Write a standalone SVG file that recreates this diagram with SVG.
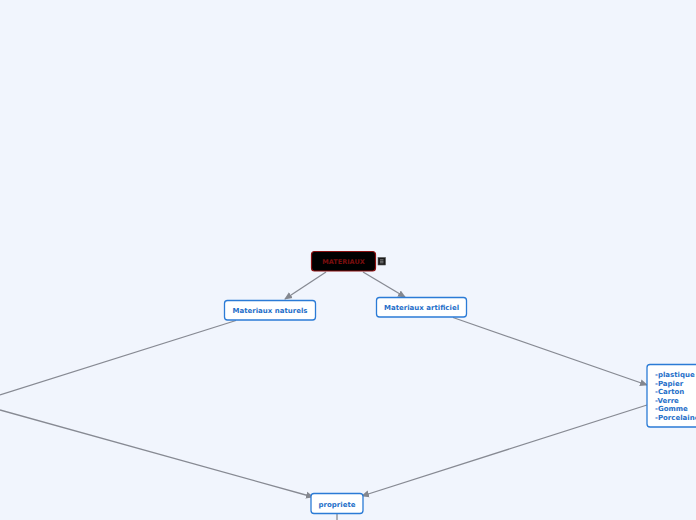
<svg xmlns="http://www.w3.org/2000/svg" width="696" height="520" viewBox="0 0 696 520">
<defs>
<marker id="ah" markerWidth="8" markerHeight="8" refX="7" refY="4" orient="auto" markerUnits="userSpaceOnUse">
<path d="M0,0.5 L8,4 L0,7.5 Z" fill="#84878f"/>
</marker>
<style>
.bg{fill:#f1f5fd}
.n{fill:#ffffff;stroke:#2b7bd6;stroke-width:1.3}
.t{font-family:"DejaVu Sans",Verdana,sans-serif;font-weight:bold;font-size:7px;fill:#1f6fc9}
.c{fill:none;stroke:#878a93;stroke-width:1.3}
</style>
</defs>
<rect class="bg" x="0" y="0" width="696" height="520"/>
<g id="connectors">
<line class="c" x1="326" y1="272" x2="285" y2="299" marker-end="url(#ah)"/>
<line class="c" x1="363" y1="272" x2="405" y2="297" marker-end="url(#ah)"/>
<line class="c" x1="236" y1="320.5" x2="0" y2="395"/>
<line class="c" x1="0" y1="410" x2="313" y2="497" marker-end="url(#ah)"/>
<line class="c" x1="453" y1="317.5" x2="647" y2="385" marker-end="url(#ah)"/>
<line class="c" x1="647" y1="405" x2="362" y2="496" marker-end="url(#ah)"/>
<line class="c" x1="337" y1="514" x2="337" y2="520"/>
</g>
<g id="materiaux">
<rect x="311.5" y="251.5" width="64" height="19.5" rx="3" fill="#000000" stroke="#8a1010" stroke-width="1.2"/>
<text x="343.5" y="264" text-anchor="middle" style="font-family:'DejaVu Sans',Verdana,sans-serif;font-weight:bold;font-size:6.5px;fill:#7a0e0e">MATERIAUX</text>
<rect x="378" y="257.5" width="7.5" height="7.5" fill="#1a1a1a" stroke="#555" stroke-width="0.6"/>
<path d="M380 259.8h3.5M380 261.3h3.5M380 262.8h3.5" stroke="#bbbbbb" stroke-width="0.6"/>
</g>
<g id="naturels">
<rect class="n" x="224.5" y="300.5" width="91" height="19.5" rx="3"/>
<text class="t" x="270" y="313" text-anchor="middle">Materiaux naturels</text>
</g>
<g id="artificiel">
<rect class="n" x="376.5" y="297.5" width="90" height="19.5" rx="3"/>
<text class="t" x="421.5" y="310" text-anchor="middle">Materiaux artificiel</text>
</g>
<g id="liste">
<rect class="n" x="647" y="364.5" width="60" height="62.5" rx="3"/>
<text class="t" x="655" y="377">-plastique</text>
<text class="t" x="655" y="385.5">-Papier</text>
<text class="t" x="655" y="394">-Carton</text>
<text class="t" x="655" y="402.5">-Verre</text>
<text class="t" x="655" y="411">-Gomme</text>
<text class="t" x="655" y="419.5">-Porcelaine</text>
</g>
<g id="proprete">
<rect class="n" x="311" y="493.5" width="52" height="20" rx="3"/>
<text class="t" x="337" y="506.5" text-anchor="middle">propriete</text>
</g>
</svg>
